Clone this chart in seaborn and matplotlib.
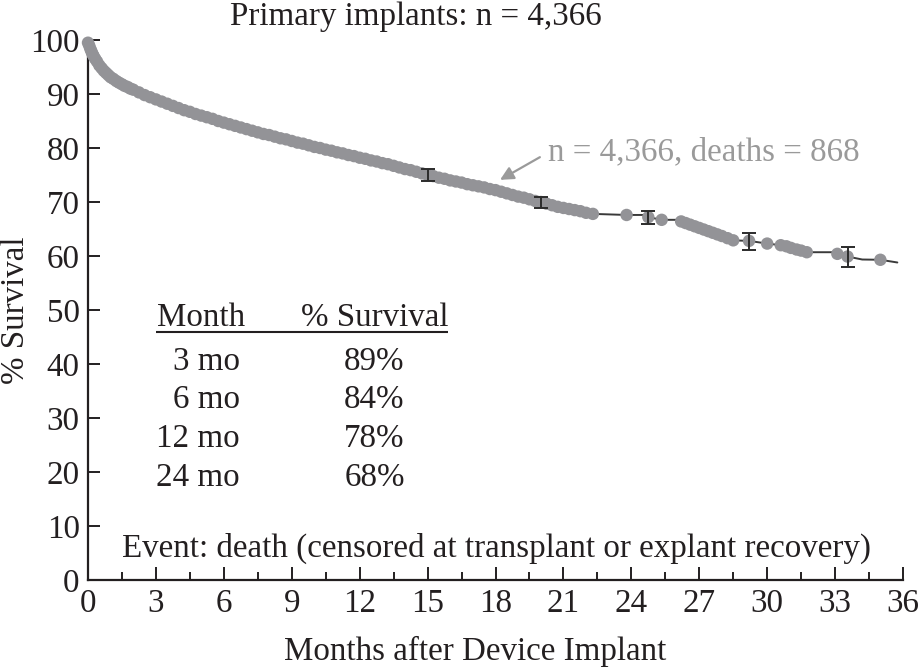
import numpy as np
import pandas as pd
import matplotlib
matplotlib.use("Agg")
import matplotlib.pyplot as plt
import seaborn as sns

# ---------------- data ----------------
dense_months = [0, 0.05, 0.1, 0.15, 0.2, 0.25, 0.32, 0.4, 0.5, 0.6, 0.7, 0.8, 0.9, 1.0, 1.12,
                1.25, 1.37, 1.5, 1.62, 1.75, 1.87, 2.0, 2.25, 2.5, 2.75,
                3.0, 3.25, 3.5, 3.75, 4.0, 4.25, 4.5, 4.75, 5.0, 5.25, 5.5, 5.75,
                6.0, 6.25, 6.5, 6.75, 7.0, 7.25, 7.5, 7.75, 8.0, 8.25, 8.5, 8.75,
                9.0, 9.25, 9.5, 9.75, 10.0, 10.25, 10.5, 10.75, 11.0, 11.25, 11.5, 11.75,
                12.0, 12.25, 12.5, 12.75, 13.0, 13.25, 13.5, 13.75, 14.0, 14.25, 14.5, 14.75,
                15.0, 15.25, 15.5, 15.75, 16.0, 16.25, 16.5, 16.75, 17.0, 17.25, 17.5, 17.75,
                18.0, 18.25, 18.5, 18.75, 19.0, 19.25, 19.5, 19.75, 20.0, 20.25, 20.5, 20.75,
                21.0, 21.25, 21.5, 21.75, 22.0, 22.3]
dense_survival = [99.5, 99.0, 98.4, 97.9, 97.4, 97.0, 96.5, 96.0, 95.3, 94.8, 94.3, 93.9, 93.5, 93.1, 92.8,
                  92.4, 92.1, 91.8, 91.5, 91.3, 91.0, 90.8, 90.3, 89.8, 89.4,
                  89.0, 88.6, 88.2, 87.8, 87.4, 87.0, 86.7, 86.3, 86.0, 85.7, 85.4, 85.0,
                  84.7, 84.4, 84.1, 83.8, 83.5, 83.2, 82.9, 82.6, 82.4, 82.1, 81.8, 81.6,
                  81.3, 81.0, 80.8, 80.5, 80.2, 80.0, 79.7, 79.5, 79.2, 79.0, 78.7, 78.5,
                  78.2, 78.0, 77.7, 77.5, 77.2, 77.0, 76.7, 76.4, 76.1, 75.9, 75.6, 75.3,
                  75.0, 74.8, 74.5, 74.3, 74.0, 73.8, 73.6, 73.3, 73.1, 72.9, 72.7, 72.4,
                  72.2, 71.9, 71.6, 71.3, 71.0, 70.8, 70.5, 70.2, 70.0, 69.7, 69.4, 69.1,
                  68.9, 68.7, 68.5, 68.3, 68.0, 67.8]

tail_months = [23.79, 24.75, 25.34,
               26.2, 26.4, 26.6, 26.8, 27.0, 27.2, 27.4, 27.6, 27.8, 28.0, 28.25, 28.5,
               29.2, 30.0, 30.6, 30.85, 31.05, 31.3, 31.5, 31.75, 33.1, 33.55, 35.0]
tail_survival = [67.6, 67.2, 66.7,
                 66.4, 66.1, 65.8, 65.5, 65.2, 64.9, 64.6, 64.3, 64.0, 63.7, 63.3, 62.9,
                 62.8, 62.3, 62.0, 61.8, 61.5, 61.2, 61.0, 60.7, 60.4, 59.9, 59.3]

# extra vertices of the survival line between censor dots
line_extra_months = [24.5, 26.15, 32.9, 34.2, 35.75]
line_extra_survival = [67.6, 66.7, 60.7, 59.35, 58.8]

# confidence intervals
ci_months = [15.0, 20.0, 24.75, 29.2, 33.55]
ci_mid = [75.0, 70.0, 67.2, 62.8, 59.9]
ci_low = [73.8, 68.9, 65.9, 61.1, 58.0]
ci_high = [76.1, 71.0, 68.4, 64.2, 61.6]

table_months = ["3 mo", "6 mo", "12 mo", "24 mo"]
table_survival = ["89%", "84%", "78%", "68%"]

x_ticks = list(range(0, 37, 3))
y_ticks = list(range(0, 101, 10))

# ---------------- style ----------------
sns.set_theme(style="ticks")
plt.rcParams["font.family"] = ["Liberation Serif", "DejaVu Serif"]
DARK = "#231f20"
GRAY = "#939397"
TGRAY = "#9a9a9a"
FS = 23.8

fig = plt.figure(figsize=(9.18, 6.72), dpi=100)
ax = fig.add_axes([88 / 918, 1 - 580 / 672, 815 / 918, 540 / 672])

dots = pd.DataFrame({"month": dense_months + tail_months,
                     "survival": dense_survival + tail_survival})
line = pd.concat([dots, pd.DataFrame({"month": line_extra_months,
                                      "survival": line_extra_survival})]).sort_values("month")

sns.lineplot(data=line, x="month", y="survival", sort=True, estimator=None,
             color="#3a3a3a", linewidth=1.4, ax=ax, zorder=2)
sns.scatterplot(data=dots, x="month", y="survival", s=80, color=GRAY,
                edgecolor="none", linewidth=0, ax=ax, zorder=3)
for c in ax.collections:
    c.set_clip_on(False)

mid = np.array(ci_mid)
ax.errorbar(ci_months, ci_mid, yerr=[mid - np.array(ci_low), np.array(ci_high) - mid],
            fmt="none", ecolor="#2b2b2b", elinewidth=1.4, capsize=5, capthick=1.4, zorder=4)

# axes
ax.set_xlim(0, 36)
ax.set_ylim(0, 100)
ax.set_xticks(x_ticks)
ax.set_xticks([t + 1.5 for t in x_ticks[:-1]], minor=True)
ax.set_yticks(y_ticks)
ax.tick_params(axis="both", which="major", direction="in", labelsize=FS,
               colors=DARK, width=1.4, pad=6)
ax.tick_params(axis="x", which="major", length=9.5)
ax.tick_params(axis="x", which="minor", direction="in", length=5.8, width=1.4, color=DARK)
ax.tick_params(axis="y", which="major", length=8.6)
sns.despine(ax=ax)
for s in ("left", "bottom"):
    ax.spines[s].set_linewidth(1.6)
    ax.spines[s].set_color(DARK)

ax.set_xlabel("Months after Device Implant", fontsize=FS, color=DARK)
ax.xaxis.set_label_coords((475 - 88) / 815, -(636 - 580) / 540)
ax.set_ylabel("")
fig.text(16 / 918, 1 - 310 / 672, "% Survival", rotation=90, fontsize=FS,
         color=DARK, ha="center", va="center")

fig.text(416 / 918, 1 - 25 / 672, "Primary implants: n = 4,366", fontsize=FS,
         color=DARK, ha="center", va="baseline")

# annotation
ax.annotate("", xy=(18.2, 74.1), xytext=(19.96, 78.3),
            arrowprops=dict(arrowstyle="-|>", color=TGRAY, lw=1.6,
                            mutation_scale=20, shrinkA=0, shrinkB=0))
ax.text(20.3, 79.3, "n = 4,366, deaths = 868", fontsize=FS, color=TGRAY,
        ha="left", va="center")

# table
ax.text(4.98, 48.5, "Month", fontsize=FS, color=DARK, ha="center", va="center")
ax.text(12.68, 48.5, "% Survival", fontsize=FS, color=DARK, ha="center", va="center")
ax.plot([3.0, 15.9], [45.9, 45.9], color=DARK, lw=1.5, solid_capstyle="butt")
row_y = [40.4, 33.3, 26.1, 18.9]
for lab, val, yy in zip(table_months, table_survival, row_y):
    ax.text(6.7, yy, lab, fontsize=FS, color=DARK, ha="right", va="center")
    ax.text(12.65, yy, val, fontsize=FS, color=DARK, ha="center", va="center")

ax.text(1.5, 5.9, "Event: death (censored at transplant or explant recovery)",
        fontsize=FS, color=DARK, ha="left", va="center")

fig.savefig("out.png", dpi=100)
